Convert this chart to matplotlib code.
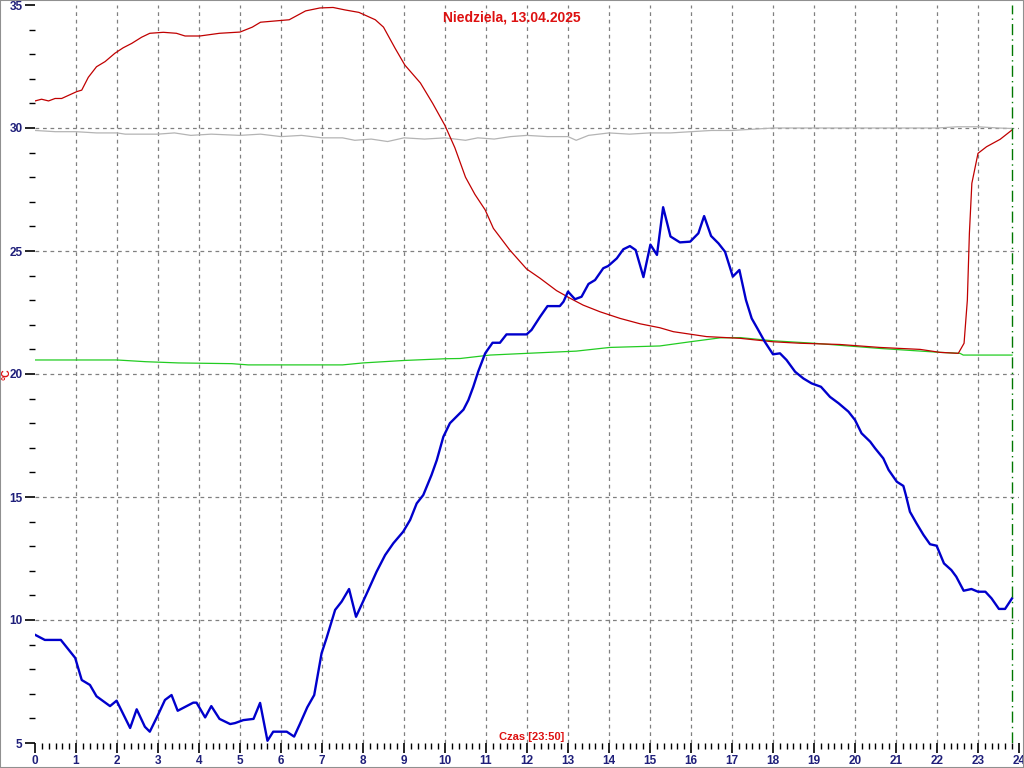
import matplotlib
matplotlib.use("Agg")
import matplotlib.pyplot as plt
from matplotlib.patches import Rectangle
from matplotlib.ticker import MultipleLocator

plt.rcParams['font.family'] = ['Liberation Sans', 'DejaVu Sans']

title = "Niedziela, 13.04.2025"
xlabel = "Czas [23:50]"
now_h = 23 + 50 / 60

# outdoor temperature (blue)
blue_h = [0, 0.24, 0.63, 0.98, 1.14, 1.34, 1.5, 1.83, 1.99, 2.32, 2.48, 2.68, 2.8, 3.0, 3.17,
          3.33, 3.48, 3.86, 3.94, 4.15, 4.3, 4.5, 4.76, 4.88, 5.08, 5.33, 5.49, 5.67, 5.81,
          6.14, 6.32, 6.46, 6.64, 6.81, 6.99, 7.11, 7.32, 7.48, 7.66, 7.83, 8.13, 8.33, 8.54,
          8.74, 8.98, 9.15, 9.31, 9.47, 9.67, 9.8, 9.96, 10.12, 10.45, 10.57, 10.69, 10.81,
          10.98, 11.16, 11.34, 11.5, 11.99, 12.11, 12.32, 12.5, 12.8, 12.89, 13.0, 13.17,
          13.33, 13.5, 13.66, 13.86, 13.98, 14.19, 14.35, 14.51, 14.65, 14.84, 15.01, 15.17,
          15.32, 15.5, 15.73, 15.98, 16.18, 16.32, 16.49, 16.67, 16.83, 17.02, 17.18, 17.34,
          17.48, 17.64, 17.8, 18.0, 18.17, 18.33, 18.54, 18.74, 18.94, 19.17, 19.39, 19.6,
          19.84, 20.0, 20.16, 20.37, 20.49, 20.69, 20.82, 21.02, 21.18, 21.24, 21.34, 21.5,
          21.67, 21.83, 21.99, 22.17, 22.35, 22.47, 22.65, 22.84, 23.0, 23.18, 23.33, 23.51,
          23.66, 23.83]
blue_t = [9.4, 9.19, 9.19, 8.46, 7.56, 7.36, 6.9, 6.5, 6.72, 5.61, 6.37, 5.66, 5.46, 6.14, 6.75,
          6.95, 6.31, 6.64, 6.64, 6.04, 6.5, 5.98, 5.77, 5.81, 5.93, 5.98, 6.63, 5.09, 5.46,
          5.46, 5.26, 5.77, 6.45, 6.95, 8.65, 9.26, 10.41, 10.75, 11.26, 10.13, 11.22, 11.96, 12.64,
          13.12, 13.59, 14.07, 14.74, 15.08, 15.89, 16.5, 17.45, 18.0, 18.55, 18.94, 19.48, 20.1,
          20.84, 21.27, 21.27, 21.61, 21.61, 21.79, 22.33, 22.76, 22.76, 22.94, 23.35, 23.04,
          23.14, 23.66, 23.82, 24.3, 24.39, 24.7, 25.07, 25.2, 25.04, 23.94, 25.26, 24.84,
          26.78, 25.59, 25.35, 25.38, 25.72, 26.42, 25.61, 25.31, 24.97, 23.96, 24.23, 23.01,
          22.26, 21.79, 21.31, 20.8, 20.84, 20.57, 20.09, 19.82, 19.62, 19.48, 19.07, 18.81,
          18.47, 18.13, 17.59, 17.25, 16.98, 16.57, 16.1, 15.62, 15.45, 15.08, 14.4, 13.93,
          13.46, 13.08, 13.02, 12.3, 12.03, 11.76, 11.19, 11.26, 11.15, 11.15, 10.88, 10.45,
          10.45, 10.88]

# red series
red_h = [0, 0.16, 0.33, 0.49, 0.65, 1.02, 1.14, 1.3, 1.5, 1.71, 1.95, 2.15, 2.36, 2.6, 2.8,
         3.13, 3.45, 3.66, 4.02, 4.5, 5.0, 5.3, 5.5, 6.2, 6.6, 6.95, 7.27, 7.56, 7.9, 8.3,
         8.5, 8.78, 9.02, 9.4, 9.7, 10.0, 10.24, 10.5, 10.73, 10.98, 11.18, 11.58, 11.99,
         12.32, 12.72, 13.05, 13.37, 13.78, 14.27, 14.76, 15.24, 15.57, 16.38, 17.2, 18.0,
         18.66, 19.63, 20.6, 21.59, 22.07, 22.52, 22.66, 22.74, 22.79, 22.85, 23.0, 23.21,
         23.54, 23.83]
red_t = [31.1, 31.17, 31.1, 31.2, 31.2, 31.48, 31.54, 32.06, 32.49, 32.7, 33.04, 33.26, 33.44,
         33.69, 33.85, 33.89, 33.85, 33.74, 33.74, 33.85, 33.9, 34.1, 34.3, 34.4, 34.76, 34.88,
         34.9, 34.8, 34.7, 34.4, 34.1, 33.25, 32.56, 31.83, 31.0, 30.1, 29.2, 28.0, 27.3, 26.67,
         25.92, 25.04, 24.27, 23.89, 23.39, 23.08, 22.8, 22.53, 22.26, 22.04, 21.88, 21.72,
         21.52, 21.45, 21.31, 21.25, 21.2, 21.08, 21.0, 20.88, 20.84, 21.25, 23.0, 25.72, 27.75,
         28.97, 29.24, 29.54, 29.92]

# gray series
gray_h = [0, 0.5, 1.0, 1.5, 2.0, 2.2, 3.0, 3.4, 3.8, 4.3, 5.0, 5.5, 6.0, 6.5, 7.0, 7.5, 7.8,
          8.2, 8.6, 9.0, 9.5, 10.0, 10.5, 10.8, 11.2, 11.6, 12.0, 12.5, 13.0, 13.2, 13.5, 14.0,
          14.5, 15.0, 15.5, 16.0, 16.5, 17.0, 17.5, 18.0, 19.0, 20.0, 21.0, 22.0, 22.5, 23.0,
          23.5, 23.83]
gray_t = [29.9, 29.85, 29.85, 29.8, 29.8, 29.75, 29.75, 29.8, 29.7, 29.75, 29.7, 29.75, 29.65,
          29.7, 29.6, 29.6, 29.5, 29.55, 29.45, 29.6, 29.55, 29.6, 29.5, 29.6, 29.55, 29.65,
          29.7, 29.65, 29.65, 29.5, 29.7, 29.8, 29.75, 29.8, 29.8, 29.85, 29.9, 29.9, 29.95,
          30.0, 30.0, 30.0, 30.0, 30.0, 30.05, 30.05, 30.0, 29.98]

# green series
green_h = [0, 2.0, 2.7, 3.5, 4.8, 5.2, 7.5, 8.0, 9.0, 10.0, 10.37, 11.1, 12.0, 13.2, 14.02,
           15.24, 15.98, 16.71, 17.2, 18.0, 19.0, 20.6, 22.07, 22.56, 22.64, 23.83]
green_t = [20.57, 20.57, 20.5, 20.45, 20.42, 20.37, 20.37, 20.45, 20.55, 20.62, 20.63, 20.77,
           20.84, 20.93, 21.08, 21.14, 21.31, 21.47, 21.48, 21.35, 21.25, 21.04, 20.88, 20.84,
           20.77, 20.77]

fig = plt.figure(figsize=(10.24, 7.68), dpi=100)
ax = fig.add_axes([35 / 1024, 1 - 743 / 768, 984 / 1024, 738 / 768])
ax.set_xlim(0, 24)
ax.set_ylim(5, 35)

for h in range(1, 24):
    ax.axvline(h, color="#808080", lw=0.9, ls=(0, (3, 3)), zorder=1)
for t in [10, 15, 20, 25, 30]:
    ax.axhline(t, color="#808080", lw=0.9, ls=(0, (3, 3)), zorder=1)

ax.plot(gray_h, gray_t, color="#b4b4b4", lw=0.9, zorder=2)
ax.plot(green_h, green_t, color="#22cc22", lw=0.9, zorder=3)
ax.plot(red_h, red_t, color="#c00000", lw=0.9, zorder=4)
ax.plot(blue_h, blue_t, color="#0000cc", lw=1.7, zorder=5)
ax.axvline(now_h, color="#007700", lw=1.0, ls=(0, (8, 3, 1, 3)), zorder=6)

for s in ax.spines.values():
    s.set_visible(False)

ax.xaxis.set_major_locator(MultipleLocator(1))
ax.xaxis.set_minor_locator(MultipleLocator(1 / 6))
ax.yaxis.set_major_locator(MultipleLocator(5))
ax.yaxis.set_minor_locator(MultipleLocator(1))
ax.tick_params(which="major", direction="out", length=7, width=1.2, color="black",
               labelsize=8.5, labelcolor="#1f1f7a", pad=2)
ax.tick_params(which="minor", direction="out", length=4, width=1.0, color="black")
for lab in ax.get_xticklabels() + ax.get_yticklabels():
    lab.set_fontweight("bold")

fig.text(0.5, 1 - 17 / 768, title, color="#dd1111", fontsize=10, fontweight="bold",
         ha="center", va="center")
fig.text(532 / 1024, 1 - 737 / 768, xlabel, color="#dd1111", fontsize=8, fontweight="bold",
         ha="center", va="center")
fig.text(6 / 1024, 1 - 374 / 768, "°C", color="#dd1111", fontsize=7.5, fontweight="bold",
         rotation=90, ha="center", va="center")

fig.patches.append(Rectangle((0, 0), 1, 1, transform=fig.transFigure, fill=False,
                             edgecolor="#909090", lw=1.5))

fig.savefig("out.png", dpi=100)
